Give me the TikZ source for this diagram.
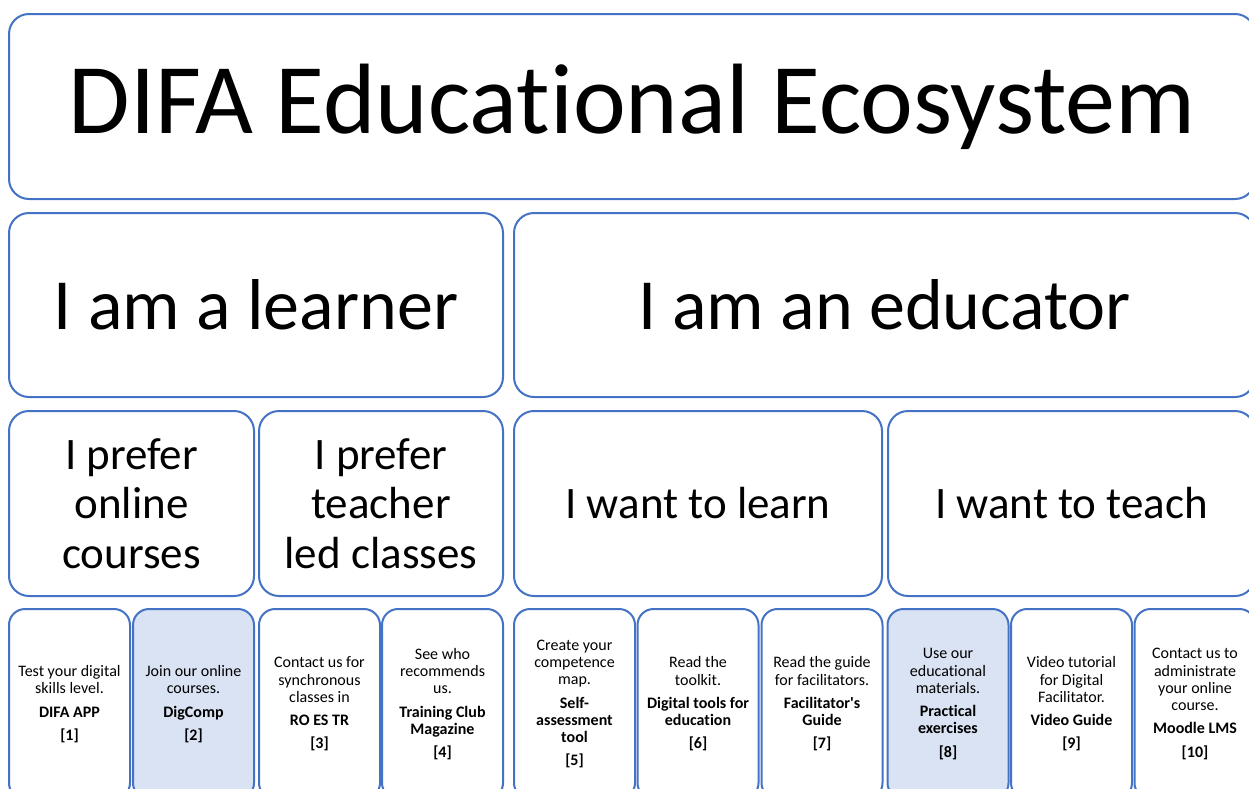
\documentclass[tikz,border=0pt]{standalone}
\usepackage{fontspec}
\setmainfont{Carlito}[Ligatures={NoCommon}]
\definecolor{officeblue}{HTML}{4472C4}
\definecolor{lightfill}{HTML}{DAE3F3}
\tikzset{
  box/.style={draw=officeblue, line width=2pt, rounded corners=20pt, fill=white, inner sep=0pt, align=center, text=black},
  smallbox/.style={box, rounded corners=16pt, minimum width=121pt, minimum height=190pt, font=\fontsize{16}{17.3}\selectfont},
  hl/.style={fill=lightfill},
  rowthree/.style={box, minimum height=185pt, font=\fontsize{45}{49.5}\selectfont},
}
\newcommand{\gap}{\\[6pt]}
\begin{document}
\begin{tikzpicture}[x=1pt,y=-1pt]
\useasboundingbox (0,0) rectangle (1249,788);
\clip (0,0) rectangle (1249,788);
\node[box, minimum width=1246pt, minimum height=185pt, font=\fontsize{100}{120}\selectfont] (title) at (632,106.5) {DIFA Educational Ecosystem};
\node[box, minimum width=494pt, minimum height=184pt, font=\fontsize{72}{86}\selectfont] (learner) at (256,305) {I am a learner};
\node[box, minimum width=741pt, minimum height=184pt, font=\fontsize{72}{86}\selectfont] (educator) at (884.5,305) {I am an educator};
\node[rowthree, minimum width=245pt] (online) at (131.5,503.5) {I prefer\\online\\courses};
\node[rowthree, minimum width=244pt] (teacher) at (381,503.5) {I prefer\\teacher\\led classes};
\node[rowthree, minimum width=368pt] (learn) at (698,503.5) {I want to learn};
\node[rowthree, minimum width=367pt] (teach) at (1071.5,503.5) {I want to teach};
\node[smallbox] (b1) at (69.5,704) {Test your digital\\skills level.\gap\textbf{DIFA APP}\gap\textbf{[1]}};
\node[smallbox, hl] (b2) at (193.5,704) {Join our online\\courses.\gap\textbf{DigComp}\gap\textbf{[2]}};
\node[smallbox] (b3) at (319.5,704) {Contact us for\\synchronous\\classes in\gap\textbf{RO ES TR}\gap\textbf{[3]}};
\node[smallbox] (b4) at (442.5,704) {See who\\recommends\\us.\gap\textbf{Training Club}\\\textbf{Magazine}\gap\textbf{[4]}};
\node[smallbox] (b5) at (574.5,704) {Create your\\competence\\map.\gap\textbf{Self-}\\\textbf{assessment}\\\textbf{tool}\gap\textbf{[5]}};
\node[smallbox] (b6) at (698,704) {Read the\\toolkit.\gap\textbf{Digital tools for}\\\textbf{education}\gap\textbf{[6]}};
\node[smallbox] (b7) at (822,704) {Read the guide\\for facilitators.\gap\textbf{Facilitator\textquotesingle s}\\\textbf{Guide}\gap\textbf{[7]}};
\node[smallbox, hl] (b8) at (948,704) {Use our\\educational\\materials.\gap\textbf{Practical}\\\textbf{exercises}\gap\textbf{[8]}};
\node[smallbox] (b9) at (1071.5,704) {Video tutorial\\for Digital\\Facilitator.\gap\textbf{Video Guide}\gap\textbf{[9]}};
\node[smallbox] (b10) at (1195,704) {Contact us to\\administrate\\your online\\course.\gap\textbf{Moodle LMS}\gap\textbf{[10]}};
\end{tikzpicture}
\end{document}
